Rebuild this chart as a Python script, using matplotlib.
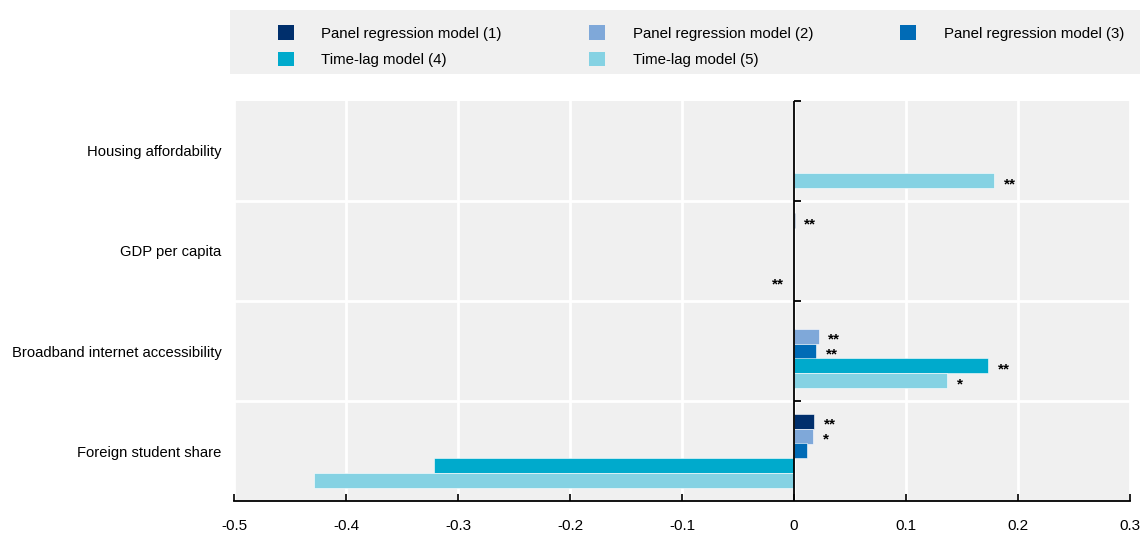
import numpy as np
import matplotlib
matplotlib.use("Agg")
import matplotlib.pyplot as plt
from matplotlib.patches import Patch, Rectangle

plt.rcParams['font.family'] = ['Liberation Sans', 'DejaVu Sans']

nan = np.nan
categories = ["Housing affordability", "GDP per capita",
              "Broadband internet accessibility", "Foreign student share"]
models = ["Panel regression model (1)", "Panel regression model (2)",
          "Panel regression model (3)", "Time-lag model (4)", "Time-lag model (5)"]
colors = ["#002f6c", "#7fa8d9", "#006bb6", "#00aacc", "#85d2e3"]

# coefficients per model, order follows categories
model1 = [nan, 0.0005, nan, 0.018]
model2 = [nan, nan, 0.022, 0.017]
model3 = [nan, nan, 0.020, 0.012]
model4 = [nan, nan, 0.173, -0.321]
model5 = [0.179, -0.0005, 0.137, -0.429]
values = [model1, model2, model3, model4, model5]

# significance stars
stars1 = ["", "**", "", "**"]
stars2 = ["", "", "**", "*"]
stars3 = ["", "", "**", ""]
stars4 = ["", "", "**", ""]
stars5 = ["**", "**", "*", ""]
stars = [stars1, stars2, stars3, stars4, stars5]

xticks = [-0.5, -0.4, -0.3, -0.2, -0.1, 0, 0.1, 0.2, 0.3]
xticklabels = ["-0.5", "-0.4", "-0.3", "-0.2", "-0.1", "0", "0.1", "0.2", "0.3"]

fig = plt.figure(figsize=(11.44, 5.34), dpi=100)
ax = fig.add_axes([234/1144, 1 - 501/534, 896/1144, 400/534])
ax.set_facecolor("#f0f0f0")

y = np.arange(len(categories))
bh = 0.15
for i in range(len(models)):
    off = (i - 2) * bh
    ax.barh(y + off, values[i], height=bh, color=colors[i],
            edgecolor="white", linewidth=0.4, label=models[i], zorder=3)
    for j in range(len(categories)):
        s = stars[i][j]
        if not s:
            continue
        v = values[i][j]
        if v >= 0:
            ax.annotate(s, (v, y[j] + off), xytext=(7, -2.5), textcoords="offset points",
                        ha="left", va="center", fontsize=11, fontweight="bold", zorder=4)
        else:
            ax.annotate(s, (v, y[j] + off), xytext=(-7, -2.5), textcoords="offset points",
                        ha="right", va="center", fontsize=11, fontweight="bold", zorder=4)

ax.set_xlim(-0.5, 0.3)
ax.set_ylim(3.5, -0.5)
ax.set_xticks(xticks)
ax.set_xticklabels(xticklabels, fontsize=11)
ax.set_yticks(y)
ax.set_yticklabels(categories, fontsize=10.6)
ax.tick_params(axis="y", length=0, pad=9)
ax.tick_params(axis="x", direction="in", length=5, width=1.2, pad=13)

for x in xticks:
    ax.axvline(x, color="white", linewidth=2, zorder=1)
for b in [0.5, 1.5, 2.5]:
    ax.axhline(b, color="white", linewidth=2, zorder=1)

ax.axvline(0, color="black", linewidth=1.3, zorder=5)
for b in [-0.5, 0.5, 1.5, 2.5]:
    ax.plot([0, 0.006], [b, b], color="black", linewidth=1.3, zorder=5,
            solid_capstyle="butt", clip_on=False)

for side in ["top", "right", "left"]:
    ax.spines[side].set_visible(False)
ax.spines["bottom"].set_linewidth(1.3)

# legend background and legend (row-major order)
fig.patches.append(Rectangle((230/1144, 1 - 74/534), 910/1144, 64/534,
                             transform=fig.transFigure, facecolor="#f0f0f0",
                             edgecolor="none", zorder=0))
handles = [Patch(facecolor=c, edgecolor="none") for c in colors]
order = [0, 3, 1, 4, 2]
fig.legend([handles[k] for k in order], [models[k] for k in order],
           loc="upper left", bbox_to_anchor=(270/1144, 1 - 18/534), ncol=3,
           frameon=False, fontsize=10.8, handlelength=1.07, handleheight=1.07,
           handletextpad=1.85, columnspacing=5.8, labelspacing=0.75, borderpad=0)

fig.savefig("out.png", dpi=100)
